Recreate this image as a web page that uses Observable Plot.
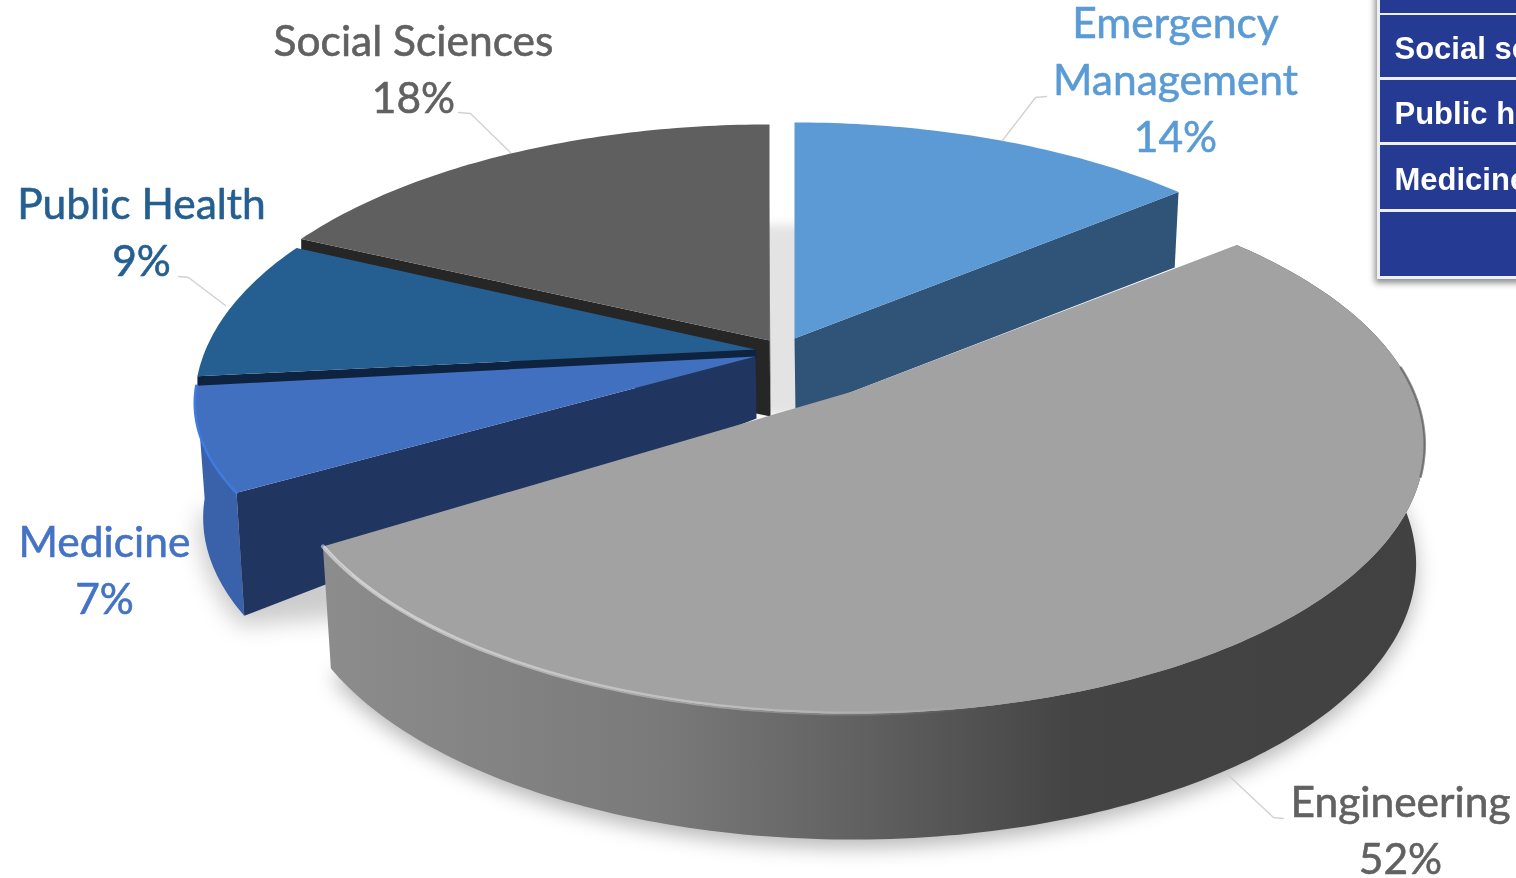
<!DOCTYPE html>
<html><head><meta charset="utf-8">
<script src="https://cdn.jsdelivr.net/npm/d3@7"></script>
<script src="https://cdn.jsdelivr.net/npm/@observablehq/plot@0.6"></script>
<style>html,body{margin:0;padding:0;background:#fff;overflow:hidden}svg{display:block}</style>
</head><body><div id="chart"></div>
<script>
// --- chart values ---
const categories = ["Emergency\nManagement", "Engineering", "Medicine", "Public Health", "Social Sciences"];
const shares = [14, 52, 7, 9, 18];
const tableRows = ["", "Social sciences", "Public health", "Medicine", ""];

// --- styles ---
const topColors = ["#5b9ad5", "#a2a2a2", "#4170c0", "#255e91", "#5f5f5f"];
const cutColors = ["#305478", "#8a8a8a", "#20355f", "#0d2340", "#262626"];
const labelColors = ["#5b9bd5", "#616161", "#4472c4", "#255e91", "#616161"];

// --- layout ---
const W = 1516, H = 878;
const apexX = [794, 852, 755, 755, 769];
const apexY = [338, 391, 356, 349, 340];
const scaleXs = [1, 1, 0.98, 0.98, 1];
const scaleYs = [1, 1, 0.88, 1, 1];
const angleTrim = [0, 0, 0, 0.024, 0];
const shrinks = [0.99, 0.985, 0.985, 1, 1];
const depthBase = [85, 118, 110, 10, 85];
const depthPower = [1, 0.3, 1, 1, 1];
const depthAtApex = [75, 60, 62, 10, 76];
const labelX = [1175, 1400, 104, 141, 413];
const labelY = [76.5, 827, 567, 229, 66];
const leaders = [
  [[1046, 96], [1035, 97], [1002, 140]],
  [[1283, 818], [1273, 817], [1225, 772]],
  [],
  [[178, 276], [188, 277], [225, 305]],
  [[458, 112], [470, 113], [510, 152]]
];
const RX = 561, RY = 258.6, P = 0.197;

// --- geometry, derived from the shares ---
const cum = d3.cumsum(shares);
const starts = shares.map((_, i) => (i ? cum[i - 1] : 0) / 100 * 2 * Math.PI + angleTrim[i]);
const ends = Array.from(cum, c => c / 100 * 2 * Math.PI);
function proj(i, t) {
  const u = Math.sin(t), v = Math.cos(t), s = 1 / (1 + P * v);
  return {x: apexX[i] + RX * u * s * scaleXs[i], y: apexY[i] - RY * v * s * scaleYs[i], s};
}
function under(i, t) {
  const p = proj(i, t);
  return [apexX[i] + (p.x - apexX[i]) * shrinks[i], p.y + depthBase[i] * Math.pow(p.s, depthPower[i])];
}
function arc(i, a, b, fn) {
  const n = Math.max(2, Math.ceil(Math.abs(b - a) * 60));
  return d3.range(n + 1).map(k => {
    const t = a + (b - a) * k / n;
    if (fn) return fn(i, t);
    const p = proj(i, t);
    return [p.x, p.y];
  });
}
const face = i => [[apexX[i], apexY[i]], ...arc(i, starts[i], ends[i])];
const rim = i => [...arc(i, starts[i], ends[i]), ...arc(i, ends[i], starts[i], under)];
const cut = (i, t) => {
  const p = proj(i, t);
  return [[apexX[i], apexY[i]], [p.x, p.y], under(i, t), [apexX[i] + 1, apexY[i] + depthAtApex[i]]];
};
const poly = (pts, options) => Plot.line([...pts, pts[0]], {x: d => d[0], y: d => d[1], stroke: "none", ...options});
const path = (pts, options) => Plot.line(pts, {x: d => d[0], y: d => d[1], ...options});

const defs = () => {
  const s = d3.create("svg:defs");
  const grad = (id, stops) => {
    const g = s.append("linearGradient").attr("id", id).attr("gradientUnits", "userSpaceOnUse")
      .attr("x1", 330).attr("x2", 1420).attr("y1", 0).attr("y2", 0);
    stops.forEach(([o, c, a]) => g.append("stop").attr("offset", o).attr("stop-color", c).attr("stop-opacity", a ?? 1));
  };
  grad("engSide", [[0, "#8c8c8c"], [0.3, "#7a7a7a"], [0.5, "#5f5f5f"], [0.68, "#444444"], [1, "#414141"]]);
  grad("engEdge", [[0, "#ffffff", 0.5], [0.35, "#ffffff", 0.3], [0.6, "#ffffff", 0], [1, "#ffffff", 0]]);
  return s.node();
};

// --- table ---
const rowTop = [-4, 15, 80, 145, 212];
const rowBottom = [13, 77, 142, 209, 276];
const rows = tableRows.map((label, i) => ({label, y1: rowTop[i], y2: rowBottom[i]}));

const labels = categories.map((c, i) => ({text: `${c}\n${shares[i]}%`, x: labelX[i], y: labelY[i], fill: labelColors[i]}));

const marks = [
  defs,
  // soft shadows
  poly(arc(1, starts[1], ends[1], under).map(d => [d[0], d[1] + 8]), {fill: "#000", fillOpacity: 0.28, imageFilter: "blur(10px)"}),
  poly([...arc(2, starts[2], ends[2], under).map(d => [d[0] - 4, d[1] + 10]), [420, 610]], {fill: "#000", fillOpacity: 0.2, imageFilter: "blur(11px)"}),
  Plot.rect([0], {x1: () => 755, x2: () => 808, y1: () => 225, y2: () => 415, fill: "#e3e3e3", imageFilter: "blur(5px)"}),
  // emergency management
  poly(cut(0, ends[0]), {fill: cutColors[0]}),
  poly(face(0), {fill: topColors[0]}),
  // social sciences
  poly(cut(4, starts[4]), {fill: cutColors[4]}),
  poly(cut(4, ends[4]), {fill: cutColors[4]}),
  poly(face(4), {fill: topColors[4]}),
  // public health
  poly(cut(3, starts[3]), {fill: cutColors[3]}),
  poly(face(3), {fill: topColors[3]}),
  // medicine
  poly(rim(2), {fill: "#3a62aa"}),
  poly(cut(2, starts[2]), {fill: cutColors[2]}),
  poly(face(2), {fill: topColors[2]}),
  path(arc(2, starts[2], ends[2]), {stroke: "#3f7be0", strokeWidth: 2.5}),
  // engineering
  poly(rim(1), {fill: "url(#engSide)"}),
  poly(face(1), {fill: topColors[1]}),
  path(arc(1, Math.PI * 0.75, ends[1]), {stroke: "url(#engEdge)", strokeWidth: 4}),
  path(arc(1, Math.PI * 0.47, Math.PI * 0.6), {stroke: "#5c5c5c", strokeWidth: 2.5, strokeOpacity: 0.7}),
  // leader lines
  ...leaders.filter(l => l.length).map(l => path(l, {stroke: "#d2d2d2", strokeWidth: 1.4})),
  // labels
  Plot.text(labels, {x: "x", y: "y", text: "text", fill: "fill", stroke: "fill", strokeWidth: 0.6, fontSize: 42.5, lineHeight: 1.34,
    fontFamily: "Lato, sans-serif", textAnchor: "middle"}),
  // table
  Plot.rect([0], {x1: () => 1375, x2: () => 1530, y1: () => -5, y2: () => 283, fill: "#000", fillOpacity: 0.45, imageFilter: "blur(3px)"}),
  Plot.rect([0], {x1: () => 1377, x2: () => 1530, y1: () => -5, y2: () => 279, fill: "#eef0f6"}),
  Plot.rect(rows, {x1: () => 1380, x2: () => 1530, y1: "y1", y2: "y2", fill: "#253a93"}),
  Plot.text(rows, {x: () => 1394, y: d => (d.y1 + d.y2) / 2 + 3, text: "label", fill: "#fff", textAnchor: "start",
    fontSize: 31, fontWeight: 700, fontFamily: "Liberation Sans, Arial, sans-serif"})
];

const chart = Plot.plot({
  width: W, height: H, margin: 0,
  x: {domain: [0, W], range: [0, W], axis: null},
  y: {domain: [0, H], range: [0, H], axis: null},
  style: {background: "#fff", filter: "blur(0.7px)", maxWidth: "none"},
  marks
});
document.getElementById("chart").appendChild(chart);
</script></body></html>
